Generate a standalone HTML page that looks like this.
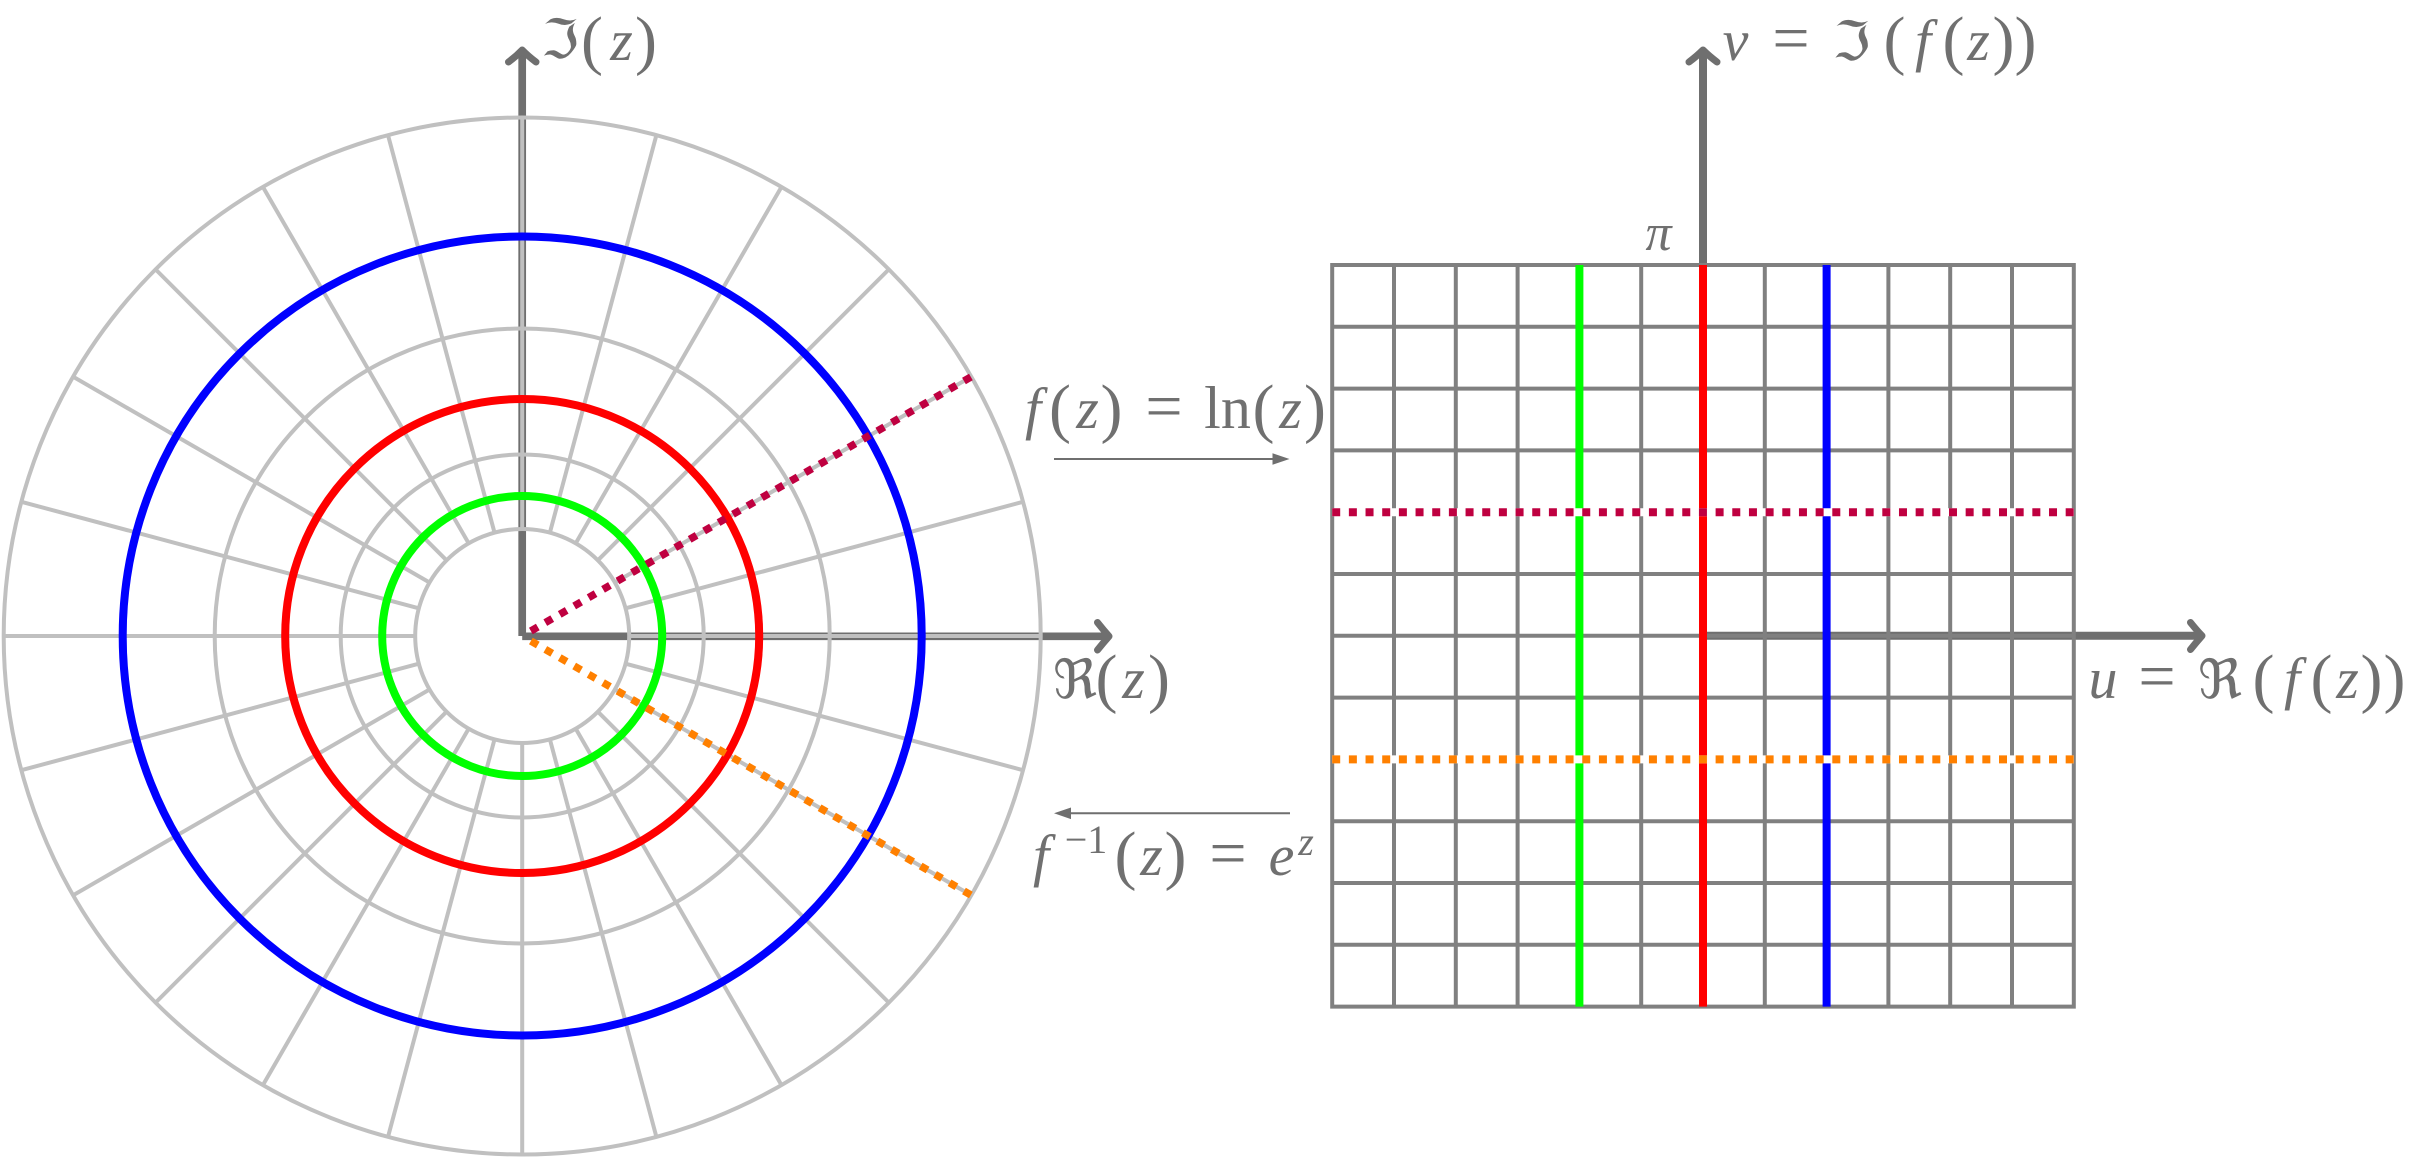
<!DOCTYPE html>
<html>
<head>
<meta charset="utf-8">
<style>
  html, body { margin:0; padding:0; background:#ffffff; }
  svg { display:block; }
  .t { font-family:"Liberation Serif","DejaVu Serif",serif; fill:#707070; }
  .i { font-style:italic; }
  .fr { font-family:"DejaVu Serif","DejaVu Sans","Liberation Serif",serif; fill:#707070; }
</style>
</head>
<body>
<svg width="2423" height="1159" viewBox="0 0 2423 1159" xmlns="http://www.w3.org/2000/svg">
  <rect x="0" y="0" width="2423" height="1159" fill="#ffffff"/>

  <!-- ================= LEFT POLAR PLOT ================= -->
  <!-- axes -->
  <g stroke="#6f6f6f" stroke-width="7.7" fill="none">
    <line x1="522.2" y1="636" x2="522.2" y2="50"/>
    <line x1="522.2" y1="636.3" x2="1109" y2="636.3"/>
  </g>
  <g stroke="#6f6f6f" stroke-width="7" fill="none" stroke-linecap="round" stroke-linejoin="round">
    <path d="M508.5,62 Q516.5,56 522.2,50 Q528,56 536,62"/>
    <path d="M1097.5,622.5 Q1103.5,630 1109,636.3 Q1103.5,642.5 1097.5,650"/>
  </g>

  <g transform="translate(522.2,636)">
    <!-- gray rings -->
    <g stroke="#c0c0c0" stroke-width="4" fill="none">
      <circle r="107"/>
      <circle r="140"/>
      <circle r="181.5"/>
      <circle r="237"/>
      <circle r="307.5"/>
      <circle r="399.5"/>
      <circle r="518.5"/>
    </g>
    <!-- spokes -->
    <g stroke="#c0c0c0" stroke-width="4">
      <line x1="107" y1="0" x2="518.5" y2="0" transform="rotate(0)"/>
      <line x1="107" y1="0" x2="518.5" y2="0" transform="rotate(15)"/>
      <line x1="107" y1="0" x2="518.5" y2="0" transform="rotate(30)"/>
      <line x1="107" y1="0" x2="518.5" y2="0" transform="rotate(45)"/>
      <line x1="107" y1="0" x2="518.5" y2="0" transform="rotate(60)"/>
      <line x1="107" y1="0" x2="518.5" y2="0" transform="rotate(75)"/>
      <line x1="107" y1="0" x2="518.5" y2="0" transform="rotate(90)"/>
      <line x1="107" y1="0" x2="518.5" y2="0" transform="rotate(105)"/>
      <line x1="107" y1="0" x2="518.5" y2="0" transform="rotate(120)"/>
      <line x1="107" y1="0" x2="518.5" y2="0" transform="rotate(135)"/>
      <line x1="107" y1="0" x2="518.5" y2="0" transform="rotate(150)"/>
      <line x1="107" y1="0" x2="518.5" y2="0" transform="rotate(165)"/>
      <line x1="107" y1="0" x2="518.5" y2="0" transform="rotate(180)"/>
      <line x1="107" y1="0" x2="518.5" y2="0" transform="rotate(195)"/>
      <line x1="107" y1="0" x2="518.5" y2="0" transform="rotate(210)"/>
      <line x1="107" y1="0" x2="518.5" y2="0" transform="rotate(225)"/>
      <line x1="107" y1="0" x2="518.5" y2="0" transform="rotate(240)"/>
      <line x1="107" y1="0" x2="518.5" y2="0" transform="rotate(255)"/>
      <line x1="107" y1="0" x2="518.5" y2="0" transform="rotate(270)"/>
      <line x1="107" y1="0" x2="518.5" y2="0" transform="rotate(285)"/>
      <line x1="107" y1="0" x2="518.5" y2="0" transform="rotate(300)"/>
      <line x1="107" y1="0" x2="518.5" y2="0" transform="rotate(315)"/>
      <line x1="107" y1="0" x2="518.5" y2="0" transform="rotate(330)"/>
      <line x1="107" y1="0" x2="518.5" y2="0" transform="rotate(345)"/>
    </g>
    <!-- colored rings -->
    <g stroke-width="8" fill="none">
      <circle r="140" stroke="#00ff00"/>
      <circle r="237" stroke="#ff0000"/>
      <circle r="399.5" stroke="#0000ff"/>
    </g>
    <!-- dotted rays -->
    <line x1="10" y1="0" x2="518.5" y2="0" transform="rotate(-30)" stroke="#bf0040" stroke-width="7.5" stroke-dasharray="8 8.67"/>
    <line x1="10" y1="0" x2="518.5" y2="0" transform="rotate(30)" stroke="#ff8000" stroke-width="7.5" stroke-dasharray="8 8.67"/>
  </g>

  <!-- ================= RIGHT GRID ================= -->
  <!-- axes -->
  <g stroke="#6f6f6f" stroke-width="8" fill="none">
    <line x1="1703" y1="635.8" x2="2202" y2="635.8"/>
    <line x1="1703" y1="635.8" x2="1703" y2="50"/>
  </g>
  <g stroke="#6f6f6f" stroke-width="7" fill="none" stroke-linecap="round" stroke-linejoin="round">
    <path d="M1689,62 Q1697,56 1703,50 Q1709,56 1717,62"/>
    <path d="M2190.5,622.5 Q2196.5,630 2202,635.8 Q2196.5,642 2190.5,649.5"/>
  </g>

  <!-- grid -->
  <path stroke="#808080" stroke-width="4" fill="none" stroke-linecap="square" d="
    M1332.2,265V1006.6 M1394,265V1006.6 M1455.8,265V1006.6 M1517.6,265V1006.6
    M1579.4,265V1006.6 M1641.2,265V1006.6 M1703,265V1006.6 M1764.8,265V1006.6
    M1826.6,265V1006.6 M1888.4,265V1006.6 M1950.2,265V1006.6 M2012,265V1006.6
    M2073.8,265V1006.6
    M1332.2,265H2073.8 M1332.2,326.8H2073.8 M1332.2,388.6H2073.8 M1332.2,450.4H2073.8
    M1332.2,512.2H2073.8 M1332.2,574H2073.8 M1332.2,635.8H2073.8 M1332.2,697.6H2073.8
    M1332.2,759.4H2073.8 M1332.2,821.2H2073.8 M1332.2,883H2073.8 M1332.2,944.8H2073.8
    M1332.2,1006.6H2073.8"/>

  <!-- colored vertical lines -->
  <g stroke-width="8">
    <line x1="1579.4" y1="265" x2="1579.4" y2="1006.6" stroke="#00ff00"/>
    <line x1="1703" y1="265" x2="1703" y2="1006.6" stroke="#ff0000"/>
    <line x1="1826.6" y1="265" x2="1826.6" y2="1006.6" stroke="#0000ff"/>
  </g>

  <!-- dotted horizontal lines -->
  <g stroke-width="8">
    <line x1="1332.2" y1="512.2" x2="2073.8" y2="512.2" stroke="#ffffff"/>
    <line x1="1332.2" y1="512.2" x2="2073.8" y2="512.2" stroke="#bf0040" stroke-dasharray="8 8.67"/>
    <line x1="1332.2" y1="759.4" x2="2073.8" y2="759.4" stroke="#ffffff"/>
    <line x1="1332.2" y1="759.4" x2="2073.8" y2="759.4" stroke="#ff8000" stroke-dasharray="8 8.67"/>
  </g>

  <!-- ================= MAPPING ARROWS ================= -->
  <line x1="1054" y1="459" x2="1274" y2="459" stroke="#6f6f6f" stroke-width="2"/>
  <polygon points="1289.5,459 1272.5,453.2 1272.5,464.8" fill="#6f6f6f"/>
  <line x1="1290" y1="813.3" x2="1070" y2="813.3" stroke="#6f6f6f" stroke-width="2"/>
  <polygon points="1054,813.3 1071,807.5 1071,819.1" fill="#6f6f6f"/>

  <!-- ================= LABELS ================= -->
  <!-- Im(z) -->
  <text class="fr" x="560" y="58" font-size="54" text-anchor="middle">ℑ</text>
  <text class="t" x="592" y="62" font-size="66" text-anchor="middle">(</text>
  <text class="t i" x="621.5" y="60" font-size="58" text-anchor="middle">z</text>
  <text class="t" x="646" y="62" font-size="66" text-anchor="middle">)</text>

  <!-- Re(z) -->
  <text class="fr" x="1075" y="698" font-size="54" text-anchor="middle">ℜ</text>
  <text class="t" x="1106.5" y="700" font-size="66" text-anchor="middle">(</text>
  <text class="t i" x="1133.5" y="698" font-size="58" text-anchor="middle">z</text>
  <text class="t" x="1159" y="700" font-size="66" text-anchor="middle">)</text>

  <!-- f(z) = ln(z) -->
  <text class="t i" x="1033" y="428" font-size="58" text-anchor="middle">f</text>
  <text class="t" x="1060" y="430" font-size="66" text-anchor="middle">(</text>
  <text class="t i" x="1087.5" y="428" font-size="58" text-anchor="middle">z</text>
  <text class="t" x="1111.5" y="430" font-size="66" text-anchor="middle">)</text>
  <text class="t" x="1164" y="428" font-size="66" text-anchor="middle">=</text>
  <text class="t" x="1227.5" y="428" font-size="60" text-anchor="middle">ln</text>
  <text class="t" x="1263.5" y="430" font-size="66" text-anchor="middle">(</text>
  <text class="t i" x="1290.5" y="428" font-size="58" text-anchor="middle">z</text>
  <text class="t" x="1315" y="430" font-size="66" text-anchor="middle">)</text>

  <!-- f^{-1}(z) = e^z -->
  <text class="t i" x="1041" y="875" font-size="58" text-anchor="middle">f</text>
  <text class="t" x="1086" y="853" font-size="40" text-anchor="middle">−1</text>
  <text class="t" x="1125.5" y="877" font-size="66" text-anchor="middle">(</text>
  <text class="t i" x="1151.5" y="875" font-size="58" text-anchor="middle">z</text>
  <text class="t" x="1175.5" y="877" font-size="66" text-anchor="middle">)</text>
  <text class="t" x="1228" y="875" font-size="66" text-anchor="middle">=</text>
  <text class="t i" x="1281.5" y="875" font-size="58" text-anchor="middle">e</text>
  <text class="t i" x="1306" y="855" font-size="40" text-anchor="middle">z</text>

  <!-- pi -->
  <text class="t i" x="1658.5" y="250" font-size="52" text-anchor="middle">π</text>

  <!-- v = Im(f(z)) -->
  <text class="t i" x="1735.5" y="60" font-size="58" text-anchor="middle">v</text>
  <text class="t" x="1791" y="60" font-size="66" text-anchor="middle">=</text>
  <text class="fr" x="1851.5" y="60" font-size="54" text-anchor="middle">ℑ</text>
  <text class="t" x="1894.5" y="62" font-size="66" text-anchor="middle">(</text>
  <text class="t i" x="1923" y="60" font-size="58" text-anchor="middle">f</text>
  <text class="t" x="1953.5" y="62" font-size="66" text-anchor="middle">(</text>
  <text class="t i" x="1978.5" y="60" font-size="58" text-anchor="middle">z</text>
  <text class="t" x="2003.5" y="62" font-size="66" text-anchor="middle">)</text>
  <text class="t" x="2025.5" y="62" font-size="66" text-anchor="middle">)</text>

  <!-- u = Re(f(z)) -->
  <text class="t i" x="2103" y="698" font-size="58" text-anchor="middle">u</text>
  <text class="t" x="2157" y="698" font-size="66" text-anchor="middle">=</text>
  <text class="fr" x="2220" y="698" font-size="54" text-anchor="middle">ℜ</text>
  <text class="t" x="2263.5" y="700" font-size="66" text-anchor="middle">(</text>
  <text class="t i" x="2292" y="698" font-size="58" text-anchor="middle">f</text>
  <text class="t" x="2321.5" y="700" font-size="66" text-anchor="middle">(</text>
  <text class="t i" x="2347.5" y="698" font-size="58" text-anchor="middle">z</text>
  <text class="t" x="2371.5" y="700" font-size="66" text-anchor="middle">)</text>
  <text class="t" x="2394.5" y="700" font-size="66" text-anchor="middle">)</text>
</svg>
</body>
</html>
